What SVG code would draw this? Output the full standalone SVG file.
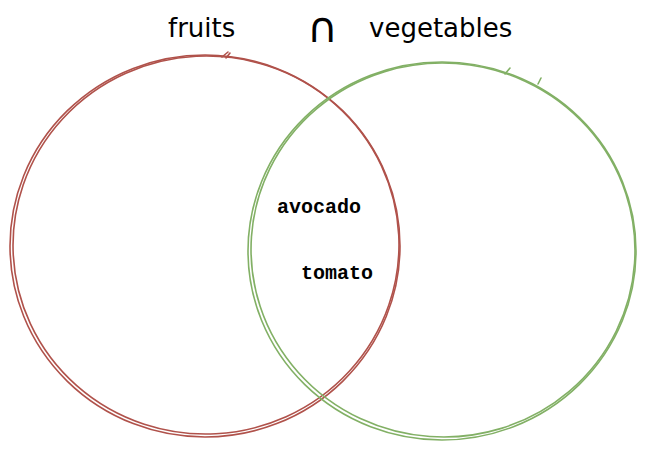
<svg xmlns="http://www.w3.org/2000/svg" width="654" height="460" viewBox="0 0 654 460">
  <style>
    .title { font-family: "DejaVu Sans", Verdana, sans-serif; font-size: 26px; fill: #000; }
    .cap { font-family: "DejaVu Sans", Verdana, sans-serif; font-size: 42px; fill: #000; }
    .item { font-family: "Liberation Mono", "Courier New", monospace; font-size: 20px; font-weight: bold; fill: #000; }
    .red { fill: none; stroke: #b0524b; stroke-width: 1.6; stroke-linecap: round; }
    .green { fill: none; stroke: #82b065; stroke-width: 1.6; stroke-linecap: round; }
  </style>
  <rect width="654" height="460" fill="#fff"/>
  <g id="title">
    <text class="title" x="168" y="37">fruits</text>
    <text class="cap" x="307" y="42">∩</text>
    <text class="title" x="369" y="37">vegetables</text>
  </g>
  <g id="fruits">
    <ellipse class="red" cx="205" cy="246" rx="195" ry="191"/>
    <ellipse class="red" cx="206" cy="245" rx="193" ry="189" transform="rotate(-3 206 245)"/>
    <path class="red" d="M222 57 L228 52 M226 58 L230 53"/>
  </g>
  <g id="vegetables">
    <ellipse class="green" cx="442" cy="251" rx="194" ry="189"/>
    <ellipse class="green" cx="443" cy="250" rx="192" ry="187" transform="rotate(4 443 250)"/>
    <path class="green" d="M505 74 L510 68 M538 84 L541 78"/>
  </g>
  <g id="items">
    <text class="item" x="277" y="213">avocado</text>
    <text class="item" x="301" y="279">tomato</text>
  </g>
</svg>
